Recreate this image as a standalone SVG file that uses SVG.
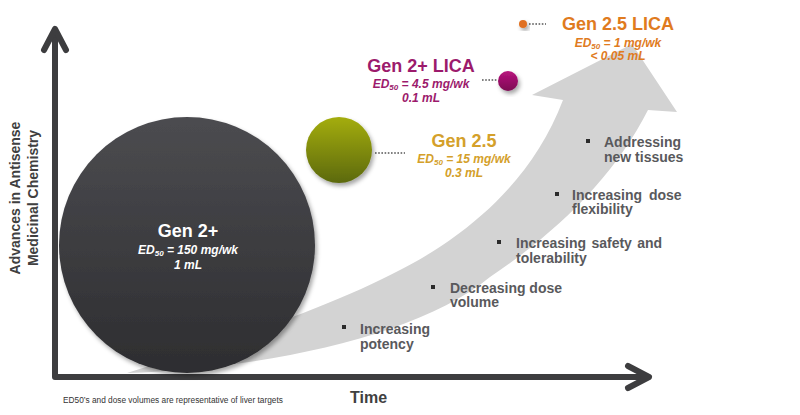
<svg xmlns="http://www.w3.org/2000/svg" width="800" height="415" viewBox="0 0 800 415">
<style>
text{font-family:"Liberation Sans",Arial,sans-serif}
.title{font-weight:bold;font-size:18px;text-anchor:middle}
.ed{font-weight:bold;font-style:italic;font-size:12px;text-anchor:middle}
.bul{font-weight:bold;font-size:14px;fill:#59595c}
.axis{fill:none;stroke:#3d3d3f;stroke-width:6;stroke-linecap:round;stroke-linejoin:round}
.dot{fill:none;stroke:#555;stroke-width:1.6;stroke-dasharray:1.6 1.6}
.sq{fill:#2b2b2b}
</style>
<defs>
<linearGradient id="gDark" x1="0" y1="0" x2="0" y2="1"><stop offset="0" stop-color="#4c4c50"/><stop offset="1" stop-color="#2d2d30"/></linearGradient>
<linearGradient id="gGreen" x1="0" y1="0" x2="0" y2="1"><stop offset="0" stop-color="#a4ad0c"/><stop offset="1" stop-color="#5c690f"/></linearGradient>
<linearGradient id="gMag" x1="0" y1="0" x2="0" y2="1"><stop offset="0" stop-color="#b8147e"/><stop offset="1" stop-color="#7c0a52"/></linearGradient>
<filter id="sh" x="-20%" y="-20%" width="150%" height="150%"><feDropShadow dx="2" dy="3" stdDeviation="2" flood-color="#000" flood-opacity="0.35"/></filter>
</defs>

<g id="progress-arrow">
<path d="M127,373 C250,335 380,290 450,240 C500,205 540,160 563,100 L532,95 L632,44 L677,112 L648,110 C615,175 560,230 490,277 C420,335 270,368 127,373 Z" fill="#d3d3d3"/>
</g>

<g id="axes">
<path class="axis" d="M55,32 L55,377 L648,377"/>
<path class="axis" d="M44,50 L55,29 L66,50"/>
<path class="axis" d="M628,366 L649,377 L628,388"/>
</g>

<g id="connectors">
<line class="dot" x1="375" y1="153" x2="405" y2="153"/>
<line class="dot" x1="482" y1="80" x2="497" y2="80"/>
<line class="dot" x1="529" y1="24" x2="546" y2="24"/>
</g>

<g id="gen2plus">
<circle cx="187" cy="245" r="128" fill="url(#gDark)" filter="url(#sh)"/>
<text class="title" x="188" y="237" fill="#fff">Gen 2+</text>
<text class="ed" x="188" y="254" fill="#fff">ED<tspan font-size="8" dy="2">50</tspan><tspan dy="-2"> = 150 mg/wk</tspan></text>
<text class="ed" x="188" y="269" fill="#fff">1 mL</text>
</g>

<g id="gen25">
<circle cx="339" cy="150" r="33" fill="url(#gGreen)" filter="url(#sh)"/>
<text class="title" x="464" y="147" fill="#d4a02a">Gen 2.5</text>
<text class="ed" x="464" y="163" fill="#d4a02a">ED<tspan font-size="8" dy="2">50</tspan><tspan dy="-2"> = 15 mg/wk</tspan></text>
<text class="ed" x="464" y="177" fill="#d4a02a">0.3 mL</text>
</g>

<g id="gen2plus-lica">
<circle cx="508" cy="81" r="10" fill="url(#gMag)" filter="url(#sh)"/>
<text class="title" x="421" y="72" fill="#9c1a6c">Gen 2+ LICA</text>
<text class="ed" x="421" y="88" fill="#9c1a6c">ED<tspan font-size="8" dy="2">50</tspan><tspan dy="-2"> = 4.5 mg/wk</tspan></text>
<text class="ed" x="421" y="102" fill="#9c1a6c">0.1 mL</text>
</g>

<g id="gen25-lica">
<circle cx="523" cy="24" r="4" fill="#e07020" filter="url(#sh)"/>
<text class="title" x="618" y="30" fill="#e07b1e">Gen 2.5 LICA</text>
<text class="ed" x="618" y="47" fill="#e07b1e">ED<tspan font-size="8" dy="2">50</tspan><tspan dy="-2"> = 1 mg/wk</tspan></text>
<text class="ed" x="618" y="60" fill="#e07b1e">&lt; 0.05 mL</text>
</g>

<g id="bullets">
<rect class="sq" x="342" y="325" width="4" height="4"/>
<text class="bul" x="360" y="334">Increasing</text>
<text class="bul" x="360" y="349">potency</text>
<rect class="sq" x="431" y="285" width="4" height="4"/>
<text class="bul" x="450" y="293">Decreasing dose</text>
<text class="bul" x="450" y="307">volume</text>
<rect class="sq" x="497" y="240" width="4" height="4"/>
<text class="bul" x="516" y="248" word-spacing="1.5">Increasing safety and</text>
<text class="bul" x="516" y="263">tolerability</text>
<rect class="sq" x="555" y="192" width="4" height="4"/>
<text class="bul" x="572" y="200" word-spacing="3">Increasing dose</text>
<text class="bul" x="572" y="214">flexibility</text>
<rect class="sq" x="586" y="139" width="4" height="4"/>
<text class="bul" x="604" y="147">Addressing</text>
<text class="bul" x="604" y="162">new tissues</text>
</g>

<g id="labels">
<text transform="translate(20,198) rotate(-90)" font-weight="bold" font-size="14" fill="#404040" text-anchor="middle">Advances in Antisense</text>
<text transform="translate(38,198) rotate(-90)" font-weight="bold" font-size="14" fill="#404040" text-anchor="middle">Medicinal Chemistry</text>
<text x="350" y="403" font-weight="bold" font-size="16" fill="#404040">Time</text>
<text x="63" y="403" font-size="8.3" fill="#333">ED50’s and dose volumes are representative of liver targets</text>
</g>
</svg>
